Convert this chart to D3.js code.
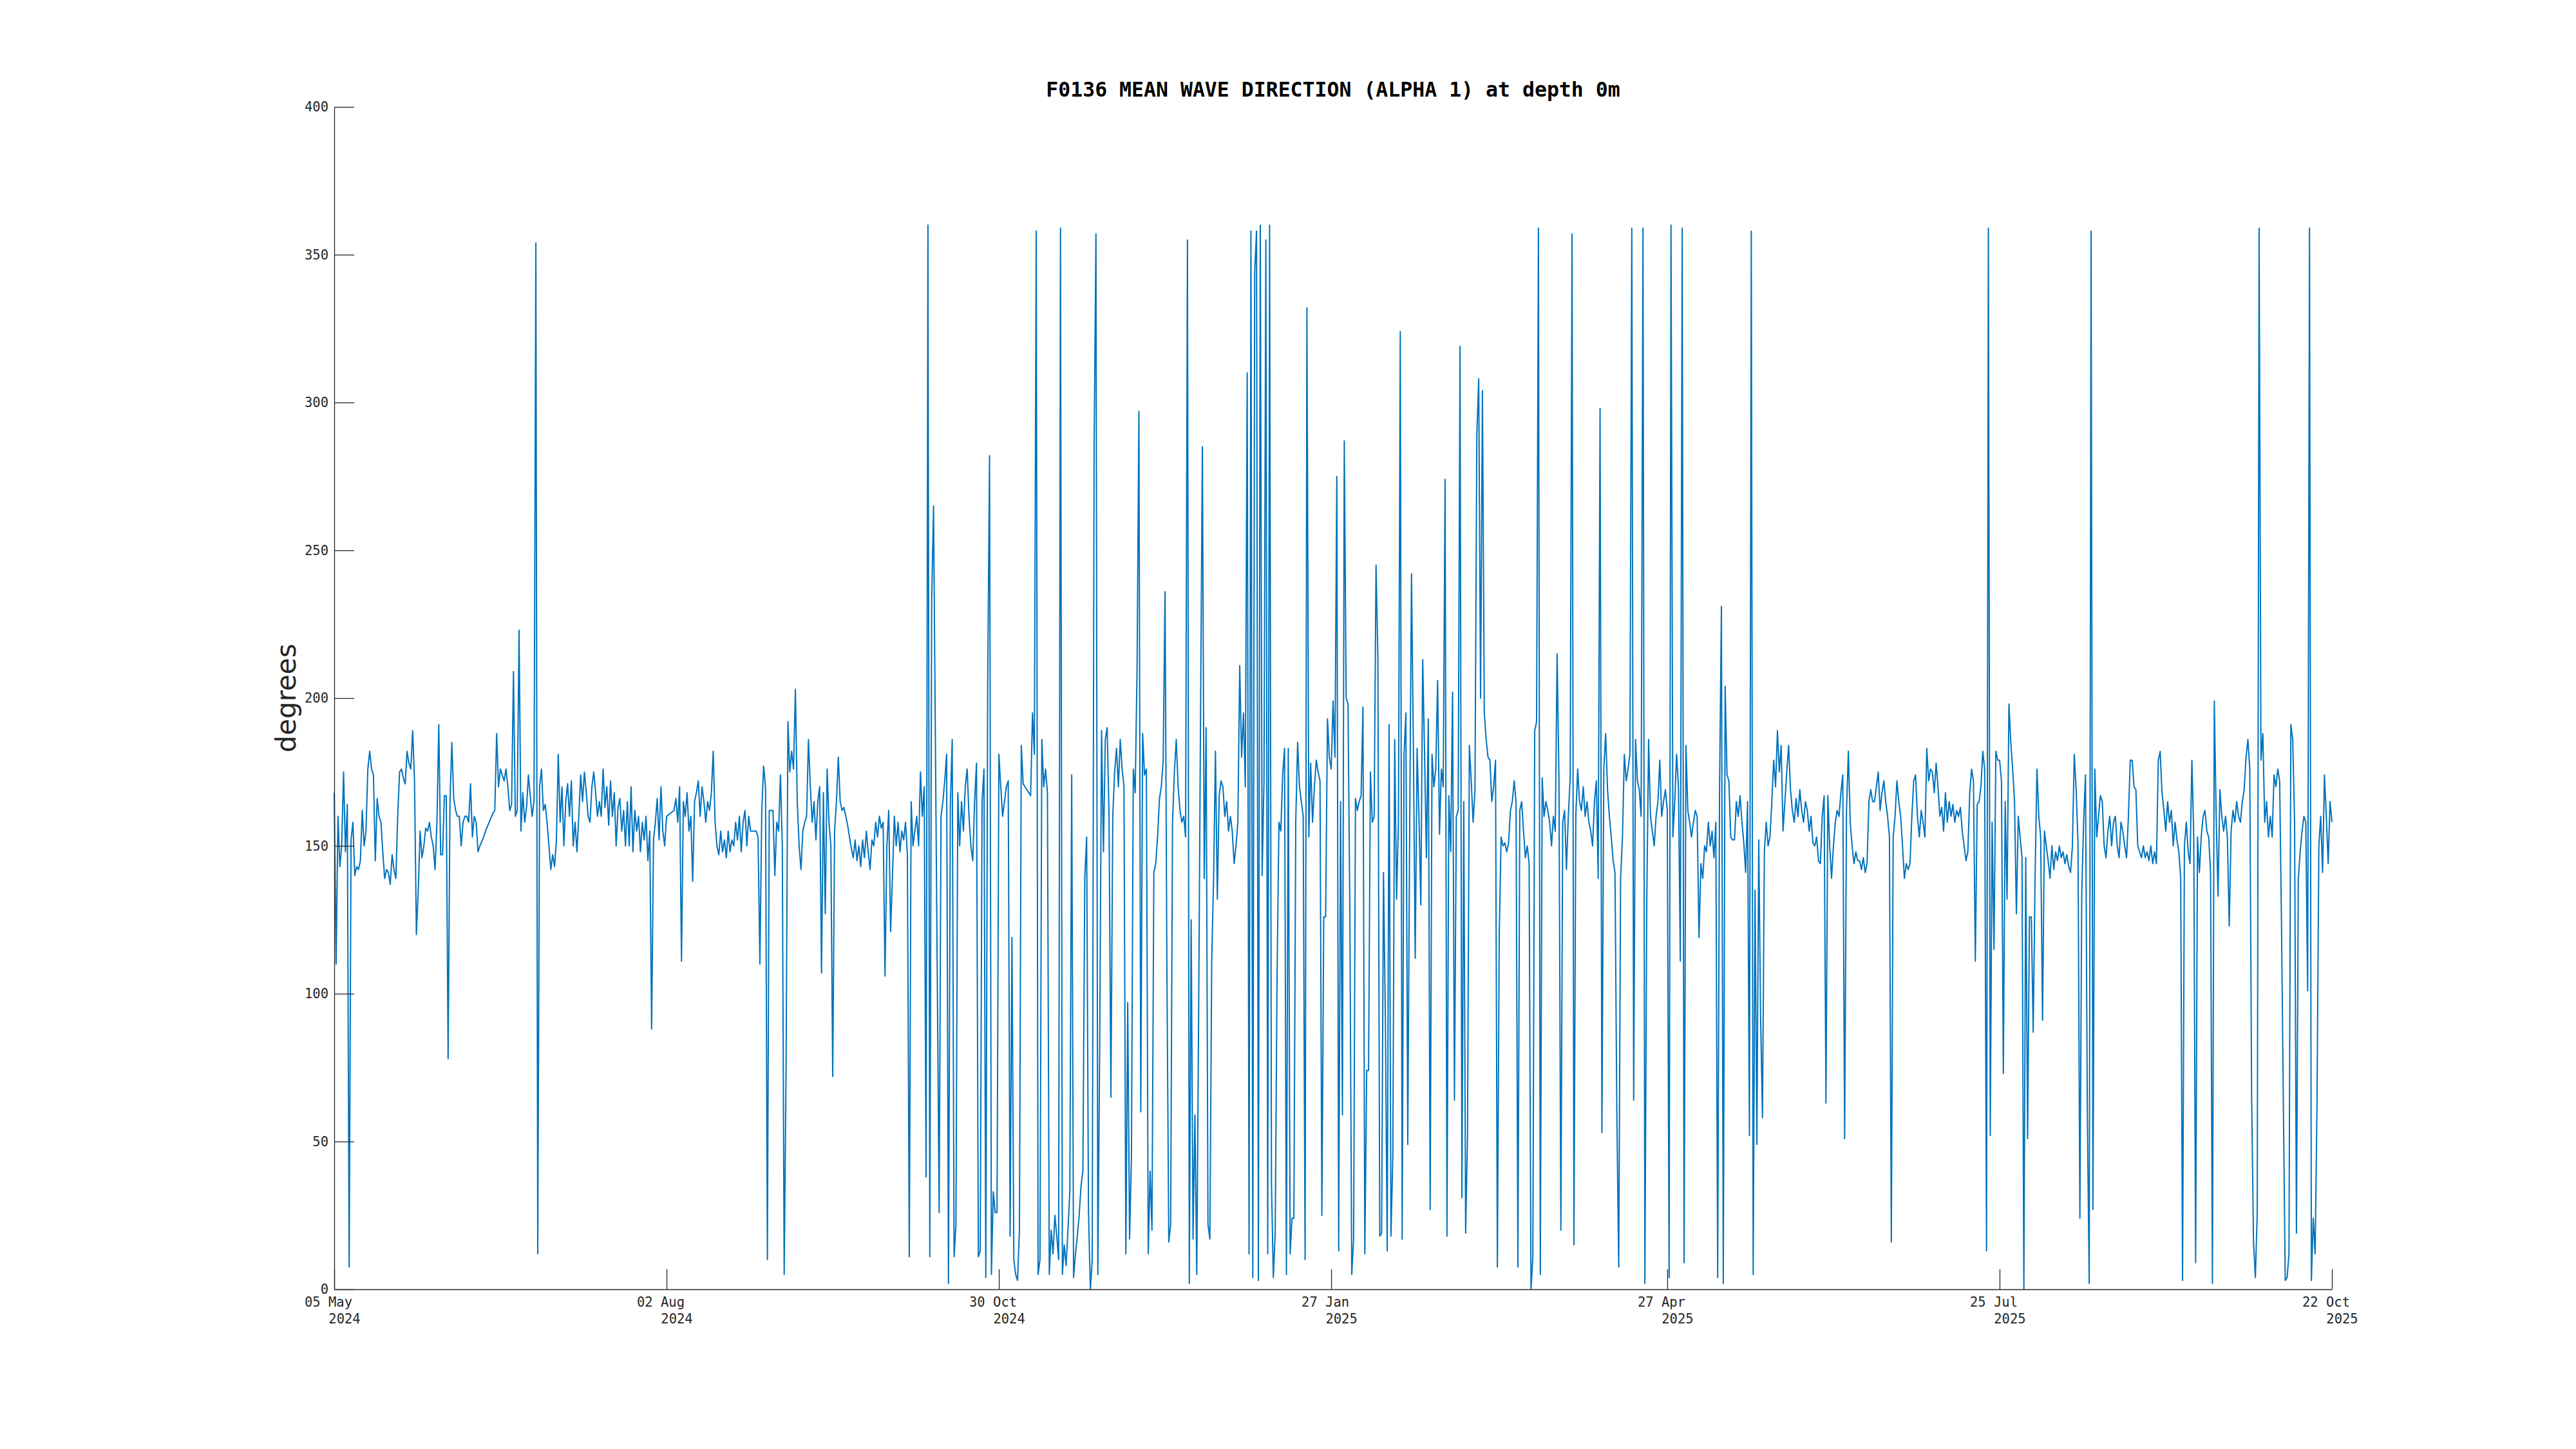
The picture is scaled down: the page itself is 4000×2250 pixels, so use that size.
<!DOCTYPE html>
<html>
<head>
<meta charset="utf-8">
<script src="https://cdn.jsdelivr.net/npm/d3@7"></script>
<style>
html, body { margin: 0; padding: 0; background: #ffffff; }
svg { display: block; }
</style>
</head>
<body>
<svg id="chart" width="4000" height="2250"></svg>
<script>
// ---------------- DATA ----------------
const chartTitle = "F0136 MEAN WAVE DIRECTION (ALPHA 1) at depth 0m";
const yAxisLabel = "degrees";
const seriesStart = "2024-05-05T00:00:00Z";   // first sample
const sampleHours = 12;                          // sampling interval of the values below
const xDomain = ["2024-05-05T00:00:00Z", "2025-10-22T00:00:00Z"];
const yDomain = [0, 400];
const yTickValues = [0, 50, 100, 150, 200, 250, 300, 350, 400];
const xTickDates = ["2024-05-05", "2024-08-02", "2024-10-30", "2025-01-27", "2025-04-27", "2025-07-25", "2025-10-22"];
const xTickDayLabels = ["05 May", "02 Aug", "30 Oct", "27 Jan", "27 Apr", "25 Jul", "22 Oct"];
const xTickYearLabels = ["2024", "2024", "2024", "2025", "2025", "2025", "2025"];

// mean wave direction (degrees), one value per 12 h
const dirPart1 = [
  168,110,160,143,150,175,148,164,7.5,152,
  158,140,143,142,145,162,150,155,176,182,
  176,174,145,166,160,158,148,139,142,141,
  137,147,142,139,160,175,176,173,171,182,
  178,176,189,172,120,135,155,146,150,156,
  155,158,153,150,142,158,191,147,147,167,
  167,78,165,185,166,162,160,160,150,158,
  160,160,158,171,153,160,158,148,150,151.5,
  153,155,156.5,158,159.5,161,162,188,170,176,
  174,172,176,170,162,164,209,160,162,223,
  155,168,158,163,174,167,160,165
];
const dirPart2 = [
  354,12,
  170,176,162,164,158,150,142,147,143,152,
  181,158,170,150,165,171,160,172,150,158,
  148,160,174,165,175,168,160,158,170,175,
  168,160,165,160,176,163,170,157,172,160,
  168,150,163,166,155,162,150,165,150,170,
  148,162,155,160,148,158,152,160,145,155,
  88,152,158,166,152,170,155,150,160,160.5,
  161,161.5,162,166,158,170,111,165,160,168,
  155,160,138,165,168,172,160,170,165,158,
  165,162,168,182,158,150,147,155,148,152,
  146,155,148,152
];
const dirPart3 = [
  150,158,152,160,148,158,
  162,150,160,155,155,155,155,153,110,162,
  177,170,10,162,162,162,140,158,155,174,
  150,5,73,192,175,182,176,203,165,150,
  142,155,158,160,186,170,158,165,152,165,
  170,107,168,127,176,158,150,72,155,165,
  180,165,162,163,160,157,153,149,146,152,
  145,150,143,152,146,155,148,142,152,150,
  158,153,160,156,158,106,150,162,121,140,
  160,150,158,148,155,152,158,147,11,165,
  150,155,160,150,175,160,170,38,360,11
];
const dirPart4 = [
  233,265,185,106,26,160,165,172,181,2,
  164,186,11,22,168,150,165,155,170,176,
  160,150,145,165,178,11,13,165,176,4,
  205,282,5,33,26,26,181,170,160,165,
  170,172,18,119,10,5,3,20,184,171,
  170,169,168,167,195,181,358,5,10,186,
  170,176,168,5,20,12,25,18,10,359,
  5,15,8,20,33,174,4,12,18,25,
  35,40,139,153,26,0,10,285,357,5,
  83,189,148,186,190,160,65,160,175,183,
  170,186,176,170,12,97,17,45,176
];
const dirPart5 = [
  168,
  209,297,60,188,174,176,12,40,20,141,
  144,153,166,170,179,236,108,16,22,158,
  175,186,170,162,158,160,153,355,2,125,
  17,59,5,94,193,285,139,190,22,17,
  111,139,182,132,167,172,170,160,165,155,
  160,155,144,150,158,211,180,195,170,310,
  12,358,4,344,358,3,360,140,172,355,
  12,360,36,4,19,106,158,155,174,183,
  5,183,12,24,24,158,185,170,165,160,
  10,332,153,178,158,170,179,175,172,25,
  126,126,193,180,176,199
];
const dirPart6 = [
  180,275,13,165,
  59,287,200,198,127,5,17,166,162,165,
  167,197,12,74,74,175,158,160,245,214,
  18,19,141,92,13,191,18,45,186,132,
  158,324,17,181,195,49,153,242,184,112,
  183,160,130,213,181,146,193,27,181,170,
  176,206,154,176,170,274,18,167,148,202,
  64,160,162,319,31,165,19,52,184,172,
  158,169,289,308,200,304,195,186,180,179,
  165,170,179,7.5,120,153,150,151,148,151,
  162,165,172,165,7.5,162,165,155,146,150,
  144,0
];
const dirPart7 = [
  11,189,192,359,5,173,160,165,
  162,158,150,160,155,215,172,20,158,162,
  142,160,173,357,15,160,176,165,162,170,
  160,165,158,155,150,165,172,139,298,53,
  176,188,169,160,153,145,141,59,7.5,139,
  153,181,172,176,181,359,64,186,172,169,
  160,359,2,130,186,160,155,150,160,165,
  179,160,165,169,162,4,360,153,165,181,
  170,111,359,9,184,162,158,153,158,162,
  160,119,144,139,150,148,158,150,155,146,
  158,4,169,231,2,204,174,172,153
];
const dirPart8 = [
  152,152,165,160,167,158,151,141,165,52,358,
  5,135,49,152,92,58,148,158,150,153,
  165,179,170,189,175,184,155,165,175,184,
  169,162,158,166,160,169,162,158,165,162,
  155,160,151,150,153,145,144,160,167,63,
  167,150,139,150,158,162,160,168,174,51,
  162,182,158,150,144,148,145,145,142,146,
  141,144,165,169,165,165,170,175,162,168,
  172,165,160,153,16,153,160,172,165,160,
  150,139,144,142,144,160,172,174,160,153,
  162,158,153,183,172,176
];
const dirPart9 = [
  175,168,178,170,
  160,163,155,168,158,165,160,164,158,162,
  160,163,155,150,145,148,168,176,172,111,
  164,165,170,182,176,13,359,52,158,115,
  182,179,179,172,73,165,132,198,185,176,
  165,127,160,153,146,0,146,51,126,126,
  87,139,176,160,153,91,155,150,145,139,
  150,142,148,145,150,146,148,144,147,143,
  141,150,181,169,151,24,134,158,174,59,
  2,358,27,176,153,160,167,165,150,146,
  155,160,150,158,160,150,146,158,155,150,
  146,160,179
];
const dirPart10 = [
  179,170,169,150,148,146,150,
  146,148,145,150,144,148,144,179,182,168,
  162,155,165,158,162,150,158,152,148,139,
  3,150,158,148,144,179,153,9,153,141,
  153,160,162,155,153,141,2,199,160,133,
  169,160,155,160,153,123,155,162,158,165,
  160,158,165,169,180,186,176,65,16,4,
  26,359,179,188,158,165,153,160,153,174,
  170,176,172,123,62,3,4,12,191,186,
  158,19,139,148,155,160,158,101,359,3,
  24,12,62,150,160,141,174,160,144,165,158
];

// ---------------- CHART ----------------
const directions = [].concat(dirPart1, dirPart2, dirPart3, dirPart4, dirPart5,
                             dirPart6, dirPart7, dirPart8, dirPart9, dirPart10);
const t0 = new Date(seriesStart).getTime();
const series = directions.map((v, i) => ({ t: new Date(t0 + i * sampleHours * 3600e3), v }));

const W = 4000, H = 2250;
const plot = { left: 519, right: 3621, top: 166, bottom: 2002 };
const axisColor = "#262626";
const monoFont = "'DejaVu Sans Mono', monospace";

const svg = d3.select("#chart");
svg.append("rect").attr("width", W).attr("height", H).attr("fill", "#ffffff");

const x = d3.scaleUtc()
  .domain(xDomain.map(d => new Date(d)))
  .range([plot.left, plot.right]);
const y = d3.scaleLinear()
  .domain(yDomain)
  .range([plot.bottom, plot.top]);

// data line
const line = d3.line().x(d => x(d.t)).y(d => y(d.v));
svg.append("path")
  .datum(series)
  .attr("fill", "none")
  .attr("stroke", "#0072BD")
  .attr("stroke-width", 2)
  .attr("stroke-linejoin", "round")
  .attr("d", line);

// y axis
const yAxis = svg.append("g")
  .attr("transform", `translate(${plot.left},0)`)
  .call(d3.axisLeft(y).tickValues(yTickValues).tickSize(-31).tickSizeOuter(0)
        .tickPadding(9).tickFormat(d3.format("d")));
yAxis.select(".domain").attr("stroke", axisColor).attr("stroke-width", 1.3);
yAxis.selectAll(".tick line").attr("stroke", axisColor).attr("stroke-width", 1.3);
yAxis.selectAll(".tick text")
  .attr("fill", axisColor)
  .style("font-family", monoFont)
  .style("font-size", "20.5px");

// x axis
const tickDates = xTickDates.map(d => new Date(d + "T00:00:00Z"));
const xAxis = svg.append("g")
  .attr("transform", `translate(0,${plot.bottom})`)
  .call(d3.axisBottom(x).tickValues(tickDates).tickSize(-31).tickSizeOuter(0)
        .tickFormat(() => ""));
xAxis.select(".domain").attr("stroke", axisColor).attr("stroke-width", 1.3);
xAxis.selectAll(".tick line").attr("stroke", axisColor).attr("stroke-width", 1.3);
xAxis.selectAll(".tick text").remove();

const xl = svg.append("g")
  .style("font-family", monoFont)
  .style("font-size", "20.5px")
  .attr("fill", axisColor)
  .attr("text-anchor", "middle");
tickDates.forEach((d, i) => {
  xl.append("text").attr("x", x(d) - 9).attr("y", plot.bottom + 27).text(xTickDayLabels[i]);
  xl.append("text").attr("x", x(d) + 16).attr("y", plot.bottom + 53).text(xTickYearLabels[i]);
});

// y label
svg.append("text")
  .attr("transform", `translate(459,${(plot.top + plot.bottom) / 2}) rotate(-90)`)
  .attr("text-anchor", "middle")
  .attr("fill", axisColor)
  .style("font-family", "'DejaVu Sans', sans-serif")
  .style("font-size", "42px")
  .text(yAxisLabel);

// title
svg.append("text")
  .attr("x", (plot.left + plot.right) / 2)
  .attr("y", 150)
  .attr("text-anchor", "middle")
  .attr("fill", "#000000")
  .style("font-family", monoFont)
  .style("font-weight", "bold")
  .style("font-size", "31.5px")
  .text(chartTitle);
</script>
</body>
</html>
